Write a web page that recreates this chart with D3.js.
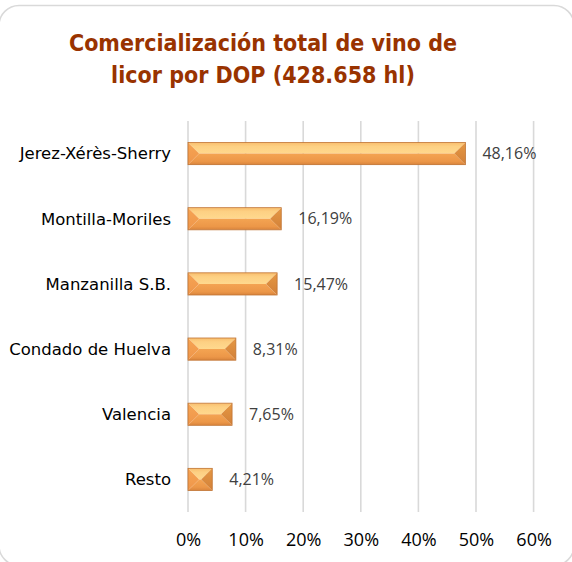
<!DOCTYPE html>
<html><head><meta charset="utf-8">
<script src="https://cdn.jsdelivr.net/npm/d3@7"></script>
<style>body{margin:0;background:#fff;}svg{display:block;}</style>
</head><body>
<svg id="c" width="572" height="562"></svg>
<script>
const categories = ["Jerez-Xérès-Sherry","Montilla-Moriles","Manzanilla S.B.","Condado de Huelva","Valencia","Resto"];
const values = [48.16,16.19,15.47,8.31,7.65,4.21];
const valueLabels = ["48,16%","16,19%","15,47%","8,31%","7,65%","4,21%"];
const ticks = [0,10,20,30,40,50,60];
const titleLines = ["Comercialización total de vino de","licor por DOP (428.658 hl)"];

const svg = d3.select("#c");
svg.append("rect").attr("x",-1).attr("y",5.5).attr("width",575).attr("height",560)
  .attr("rx",20).attr("fill","#fff").attr("stroke","#d9d9d9").attr("stroke-width",1.5);

const x = d3.scaleLinear().domain([0,60]).range([188,533.6]);
const y = d3.scaleBand().domain(categories).range([121,512]).paddingInner(0.66).paddingOuter(0.33);

// title
const t = svg.append("text").attr("text-anchor","middle").attr("fill","#993300")
  .style("font-family","'DejaVu Sans Condensed','DejaVu Sans',Verdana,sans-serif")
  .style("font-weight","bold").style("font-size","23px");
titleLines.forEach((l,i)=>t.append("tspan").attr("x",263).attr("y",51+i*32).text(l));

// grid
svg.append("g").selectAll("line").data(ticks).join("line")
  .attr("x1",d=>x(d)).attr("x2",d=>x(d)).attr("y1",121).attr("y2",512)
  .attr("stroke","#d9d9d9").attr("stroke-width",1.6);

// x axis labels
const xa = svg.append("g").attr("transform","translate(0,546)")
  .call(d3.axisBottom(x).tickValues(ticks).tickFormat(d=>d+"%").tickSize(0).tickPadding(0));
xa.select(".domain").remove();
xa.selectAll("text").attr("dy",0).attr("fill","#000")
  .style("font-family","'Open Sans',sans-serif").style("font-size","18px");

// y axis labels
const ya = svg.append("g").attr("transform","translate(171,0)")
  .call(d3.axisLeft(y).tickSize(0).tickPadding(0));
ya.select(".domain").remove();
ya.selectAll("text").attr("dy","0.35em").attr("fill","#000")
  .style("font-family","'DejaVu Sans',Verdana,sans-serif").style("font-size","16.5px");

// bars with bevel
const data = categories.map((c,i)=>({c,v:values[i],lab:valueLabels[i]}));
const defs = svg.append("defs");
function grad(id, stops){
  const g = defs.append("linearGradient").attr("id",id).attr("x1",0).attr("y1",0).attr("x2",0).attr("y2",1);
  stops.forEach(s=>g.append("stop").attr("offset",s[0]).attr("stop-color",s[1]));
}
grad("topF",[[0,"#F9BE6E"],[0.35,"#FDD083"],[1,"#FFD98E"]]);
grad("botF",[[0,"#F4A452"],[0.7,"#EC9748"],[1,"#D9843C"]]);
grad("leftF",[[0,"#F6A453"],[1,"#EF964A"]]);
grad("rightF",[[0,"#E59844"],[1,"#D28038"]]);

const bars = svg.append("g").selectAll("g").data(data).join("g");
bars.each(function(d){
  const g = d3.select(this);
  const x0 = x(0), x1 = x(d.v), y0 = y(d.c), h = y.bandwidth(), y1 = y0+h, ym = y0+h/2;
  const b = Math.min(h/2, (x1-x0)/2);
  const poly = pts => pts.map(p=>p.join(",")).join(" ");
  g.append("polygon").attr("points",poly([[x0,y0],[x1,y0],[x1-b,ym],[x0+b,ym]])).attr("fill","url(#topF)");
  g.append("polygon").attr("points",poly([[x0,y1],[x1,y1],[x1-b,ym],[x0+b,ym]])).attr("fill","url(#botF)");
  g.append("polygon").attr("points",poly([[x0,y0],[x0+b,ym],[x0,y1]])).attr("fill","url(#leftF)");
  g.append("polygon").attr("points",poly([[x1,y0],[x1-b,ym],[x1,y1]])).attr("fill","url(#rightF)");
  g.append("rect").attr("x",x0).attr("y",y0).attr("width",x1-x0).attr("height",h)
    .attr("fill","none").attr("stroke","#C07434").attr("stroke-width",0.8);
  g.append("text").attr("x",x1+17).attr("y",ym).attr("dy","0.35em").attr("fill","#404040")
    .style("font-family","'Open Sans',sans-serif").style("font-size","16px").text(d.lab);
});
</script>
</body></html>
